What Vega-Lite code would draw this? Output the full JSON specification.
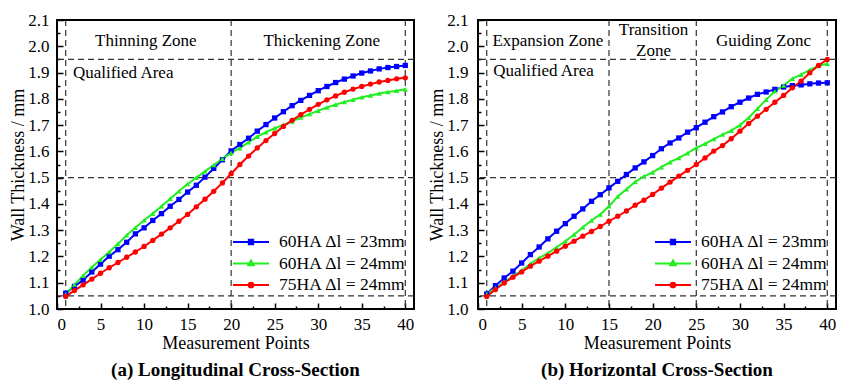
{
"$schema": "https://vega.github.io/schema/vega-lite/v6.json",
"background": "white",
"padding": {"left": 8, "top": 10, "right": 2, "bottom": 2},
"spacing": 11,
"config": {
  "font": "Liberation Serif",
  "view": {"stroke": "black", "strokeWidth": 2, "fill": "white"},
  "axis": {"grid": false, "domain": false, "labelFont": "Liberation Serif", "labelFontSize": 17, "labelColor": "black", "titleFont": "Liberation Serif", "titleFontSize": 18, "titleFontWeight": "normal", "titleColor": "black", "tickColor": "black", "tickWidth": 1.5},
  "legend": {"orient": "bottom-right", "offset": 8, "padding": 0, "symbolSize": 324, "symbolStrokeWidth": 2, "symbolOpacity": 1, "labelFont": "Liberation Serif", "labelFontSize": 17.5, "labelColor": "black", "rowPadding": 2.5, "labelOffset": 18, "titleOrient": "bottom", "titleFontSize": 6, "titlePadding": 1}
},
"datasets": {
  "leg": [{"s": "60HA Δl = 23mm"}, {"s": "60HA Δl = 24mm"}, {"s": "75HA Δl = 24mm"}],
  "hA": [{"y": 1.05}, {"y": 1.5}, {"y": 1.95}],
  "vA": [{"x": 1}, {"x": 20}, {"x": 40}],
  "vB": [{"x": 1}, {"x": 15}, {"x": 25}, {"x": 40}],
  "tA": [{"x": 10.2, "y": 2.02, "t": "Thinning Zone"}, {"x": 30.4, "y": 2.02, "t": "Thickening Zone"}, {"x": 7.6, "y": 1.899, "t": "Qualified Area"}],
  "tB": [{"x": 8.0, "y": 2.02, "t": "Expansion Zone"}, {"x": 20.1, "y": 2.061, "t": "Transition\nZone"}, {"x": 32.7, "y": 2.02, "t": "Guiding Zonc"}, {"x": 7.5, "y": 1.905, "t": "Qualified Area"}],
  "cA": [
{"s":"60HA Δl = 23mm","x":1,"y":1.06},{"s":"60HA Δl = 23mm","x":2,"y":1.086},{"s":"60HA Δl = 23mm","x":3,"y":1.11},{"s":"60HA Δl = 23mm","x":4,"y":1.141},{"s":"60HA Δl = 23mm","x":5,"y":1.171},{"s":"60HA Δl = 23mm","x":6,"y":1.201},{"s":"60HA Δl = 23mm","x":7,"y":1.226},{"s":"60HA Δl = 23mm","x":8,"y":1.254},{"s":"60HA Δl = 23mm","x":9,"y":1.286},{"s":"60HA Δl = 23mm","x":10,"y":1.309},
{"s":"60HA Δl = 23mm","x":11,"y":1.337},{"s":"60HA Δl = 23mm","x":12,"y":1.363},{"s":"60HA Δl = 23mm","x":13,"y":1.391},{"s":"60HA Δl = 23mm","x":14,"y":1.417},{"s":"60HA Δl = 23mm","x":15,"y":1.445},{"s":"60HA Δl = 23mm","x":16,"y":1.471},{"s":"60HA Δl = 23mm","x":17,"y":1.502},{"s":"60HA Δl = 23mm","x":18,"y":1.535},{"s":"60HA Δl = 23mm","x":19,"y":1.568},{"s":"60HA Δl = 23mm","x":20,"y":1.602},
{"s":"60HA Δl = 23mm","x":21,"y":1.626},{"s":"60HA Δl = 23mm","x":22,"y":1.65},{"s":"60HA Δl = 23mm","x":23,"y":1.677},{"s":"60HA Δl = 23mm","x":24,"y":1.702},{"s":"60HA Δl = 23mm","x":25,"y":1.727},{"s":"60HA Δl = 23mm","x":26,"y":1.751},{"s":"60HA Δl = 23mm","x":27,"y":1.774},{"s":"60HA Δl = 23mm","x":28,"y":1.794},{"s":"60HA Δl = 23mm","x":29,"y":1.813},{"s":"60HA Δl = 23mm","x":30,"y":1.831},
{"s":"60HA Δl = 23mm","x":31,"y":1.847},{"s":"60HA Δl = 23mm","x":32,"y":1.862},{"s":"60HA Δl = 23mm","x":33,"y":1.875},{"s":"60HA Δl = 23mm","x":34,"y":1.887},{"s":"60HA Δl = 23mm","x":35,"y":1.898},{"s":"60HA Δl = 23mm","x":36,"y":1.906},{"s":"60HA Δl = 23mm","x":37,"y":1.914},{"s":"60HA Δl = 23mm","x":38,"y":1.919},{"s":"60HA Δl = 23mm","x":39,"y":1.923},{"s":"60HA Δl = 23mm","x":40,"y":1.927},
{"s":"60HA Δl = 24mm","x":1,"y":1.056},{"s":"60HA Δl = 24mm","x":2,"y":1.093},{"s":"60HA Δl = 24mm","x":3,"y":1.127},{"s":"60HA Δl = 24mm","x":4,"y":1.159},{"s":"60HA Δl = 24mm","x":5,"y":1.188},{"s":"60HA Δl = 24mm","x":6,"y":1.217},{"s":"60HA Δl = 24mm","x":7,"y":1.248},{"s":"60HA Δl = 24mm","x":8,"y":1.281},{"s":"60HA Δl = 24mm","x":9,"y":1.309},{"s":"60HA Δl = 24mm","x":10,"y":1.338},
{"s":"60HA Δl = 24mm","x":11,"y":1.363},{"s":"60HA Δl = 24mm","x":12,"y":1.391},{"s":"60HA Δl = 24mm","x":13,"y":1.42},{"s":"60HA Δl = 24mm","x":14,"y":1.448},{"s":"60HA Δl = 24mm","x":15,"y":1.476},{"s":"60HA Δl = 24mm","x":16,"y":1.5},{"s":"60HA Δl = 24mm","x":17,"y":1.524},{"s":"60HA Δl = 24mm","x":18,"y":1.548},{"s":"60HA Δl = 24mm","x":19,"y":1.572},{"s":"60HA Δl = 24mm","x":20,"y":1.594},
{"s":"60HA Δl = 24mm","x":21,"y":1.612},{"s":"60HA Δl = 24mm","x":22,"y":1.635},{"s":"60HA Δl = 24mm","x":23,"y":1.656},{"s":"60HA Δl = 24mm","x":24,"y":1.673},{"s":"60HA Δl = 24mm","x":25,"y":1.688},{"s":"60HA Δl = 24mm","x":26,"y":1.701},{"s":"60HA Δl = 24mm","x":27,"y":1.714},{"s":"60HA Δl = 24mm","x":28,"y":1.729},{"s":"60HA Δl = 24mm","x":29,"y":1.742},{"s":"60HA Δl = 24mm","x":30,"y":1.755},
{"s":"60HA Δl = 24mm","x":31,"y":1.767},{"s":"60HA Δl = 24mm","x":32,"y":1.778},{"s":"60HA Δl = 24mm","x":33,"y":1.788},{"s":"60HA Δl = 24mm","x":34,"y":1.797},{"s":"60HA Δl = 24mm","x":35,"y":1.806},{"s":"60HA Δl = 24mm","x":36,"y":1.813},{"s":"60HA Δl = 24mm","x":37,"y":1.82},{"s":"60HA Δl = 24mm","x":38,"y":1.826},{"s":"60HA Δl = 24mm","x":39,"y":1.831},{"s":"60HA Δl = 24mm","x":40,"y":1.836},
{"s":"75HA Δl = 24mm","x":1,"y":1.048},{"s":"75HA Δl = 24mm","x":2,"y":1.07},{"s":"75HA Δl = 24mm","x":3,"y":1.092},{"s":"75HA Δl = 24mm","x":4,"y":1.114},{"s":"75HA Δl = 24mm","x":5,"y":1.136},{"s":"75HA Δl = 24mm","x":6,"y":1.157},{"s":"75HA Δl = 24mm","x":7,"y":1.177},{"s":"75HA Δl = 24mm","x":8,"y":1.197},{"s":"75HA Δl = 24mm","x":9,"y":1.217},{"s":"75HA Δl = 24mm","x":10,"y":1.238},
{"s":"75HA Δl = 24mm","x":11,"y":1.261},{"s":"75HA Δl = 24mm","x":12,"y":1.285},{"s":"75HA Δl = 24mm","x":13,"y":1.309},{"s":"75HA Δl = 24mm","x":14,"y":1.334},{"s":"75HA Δl = 24mm","x":15,"y":1.36},{"s":"75HA Δl = 24mm","x":16,"y":1.389},{"s":"75HA Δl = 24mm","x":17,"y":1.418},{"s":"75HA Δl = 24mm","x":18,"y":1.448},{"s":"75HA Δl = 24mm","x":19,"y":1.48},{"s":"75HA Δl = 24mm","x":20,"y":1.515},
{"s":"75HA Δl = 24mm","x":21,"y":1.55},{"s":"75HA Δl = 24mm","x":22,"y":1.582},{"s":"75HA Δl = 24mm","x":23,"y":1.613},{"s":"75HA Δl = 24mm","x":24,"y":1.641},{"s":"75HA Δl = 24mm","x":25,"y":1.668},{"s":"75HA Δl = 24mm","x":26,"y":1.695},{"s":"75HA Δl = 24mm","x":27,"y":1.718},{"s":"75HA Δl = 24mm","x":28,"y":1.74},{"s":"75HA Δl = 24mm","x":29,"y":1.76},{"s":"75HA Δl = 24mm","x":30,"y":1.779},
{"s":"75HA Δl = 24mm","x":31,"y":1.796},{"s":"75HA Δl = 24mm","x":32,"y":1.811},{"s":"75HA Δl = 24mm","x":33,"y":1.825},{"s":"75HA Δl = 24mm","x":34,"y":1.837},{"s":"75HA Δl = 24mm","x":35,"y":1.847},{"s":"75HA Δl = 24mm","x":36,"y":1.856},{"s":"75HA Δl = 24mm","x":37,"y":1.864},{"s":"75HA Δl = 24mm","x":38,"y":1.87},{"s":"75HA Δl = 24mm","x":39,"y":1.876},{"s":"75HA Δl = 24mm","x":40,"y":1.88}
  ],
  "cB": [
{"s":"60HA Δl = 23mm","x":1,"y":1.057},{"s":"60HA Δl = 23mm","x":2,"y":1.089},{"s":"60HA Δl = 23mm","x":3,"y":1.118},{"s":"60HA Δl = 23mm","x":4,"y":1.144},{"s":"60HA Δl = 23mm","x":5,"y":1.175},{"s":"60HA Δl = 23mm","x":6,"y":1.207},{"s":"60HA Δl = 23mm","x":7,"y":1.236},{"s":"60HA Δl = 23mm","x":8,"y":1.267},{"s":"60HA Δl = 23mm","x":9,"y":1.296},{"s":"60HA Δl = 23mm","x":10,"y":1.325},
{"s":"60HA Δl = 23mm","x":11,"y":1.353},{"s":"60HA Δl = 23mm","x":12,"y":1.381},{"s":"60HA Δl = 23mm","x":13,"y":1.41},{"s":"60HA Δl = 23mm","x":14,"y":1.435},{"s":"60HA Δl = 23mm","x":15,"y":1.461},{"s":"60HA Δl = 23mm","x":16,"y":1.486},{"s":"60HA Δl = 23mm","x":17,"y":1.512},{"s":"60HA Δl = 23mm","x":18,"y":1.537},{"s":"60HA Δl = 23mm","x":19,"y":1.56},{"s":"60HA Δl = 23mm","x":20,"y":1.584},
{"s":"60HA Δl = 23mm","x":21,"y":1.61},{"s":"60HA Δl = 23mm","x":22,"y":1.632},{"s":"60HA Δl = 23mm","x":23,"y":1.651},{"s":"60HA Δl = 23mm","x":24,"y":1.673},{"s":"60HA Δl = 23mm","x":25,"y":1.69},{"s":"60HA Δl = 23mm","x":26,"y":1.711},{"s":"60HA Δl = 23mm","x":27,"y":1.732},{"s":"60HA Δl = 23mm","x":28,"y":1.75},{"s":"60HA Δl = 23mm","x":29,"y":1.77},{"s":"60HA Δl = 23mm","x":30,"y":1.787},
{"s":"60HA Δl = 23mm","x":31,"y":1.803},{"s":"60HA Δl = 23mm","x":32,"y":1.817},{"s":"60HA Δl = 23mm","x":33,"y":1.826},{"s":"60HA Δl = 23mm","x":34,"y":1.836},{"s":"60HA Δl = 23mm","x":35,"y":1.845},{"s":"60HA Δl = 23mm","x":36,"y":1.85},{"s":"60HA Δl = 23mm","x":37,"y":1.853},{"s":"60HA Δl = 23mm","x":38,"y":1.857},{"s":"60HA Δl = 23mm","x":39,"y":1.86},{"s":"60HA Δl = 23mm","x":40,"y":1.861},
{"s":"60HA Δl = 24mm","x":1,"y":1.057},{"s":"60HA Δl = 24mm","x":2,"y":1.08},{"s":"60HA Δl = 24mm","x":3,"y":1.102},{"s":"60HA Δl = 24mm","x":4,"y":1.125},{"s":"60HA Δl = 24mm","x":5,"y":1.146},{"s":"60HA Δl = 24mm","x":6,"y":1.172},{"s":"60HA Δl = 24mm","x":7,"y":1.194},{"s":"60HA Δl = 24mm","x":8,"y":1.213},{"s":"60HA Δl = 24mm","x":9,"y":1.235},{"s":"60HA Δl = 24mm","x":10,"y":1.258},
{"s":"60HA Δl = 24mm","x":11,"y":1.283},{"s":"60HA Δl = 24mm","x":12,"y":1.311},{"s":"60HA Δl = 24mm","x":13,"y":1.337},{"s":"60HA Δl = 24mm","x":14,"y":1.36},{"s":"60HA Δl = 24mm","x":15,"y":1.391},{"s":"60HA Δl = 24mm","x":16,"y":1.428},{"s":"60HA Δl = 24mm","x":17,"y":1.456},{"s":"60HA Δl = 24mm","x":18,"y":1.484},{"s":"60HA Δl = 24mm","x":19,"y":1.505},{"s":"60HA Δl = 24mm","x":20,"y":1.52},
{"s":"60HA Δl = 24mm","x":21,"y":1.54},{"s":"60HA Δl = 24mm","x":22,"y":1.559},{"s":"60HA Δl = 24mm","x":23,"y":1.575},{"s":"60HA Δl = 24mm","x":24,"y":1.593},{"s":"60HA Δl = 24mm","x":25,"y":1.613},{"s":"60HA Δl = 24mm","x":26,"y":1.629},{"s":"60HA Δl = 24mm","x":27,"y":1.647},{"s":"60HA Δl = 24mm","x":28,"y":1.664},{"s":"60HA Δl = 24mm","x":29,"y":1.679},{"s":"60HA Δl = 24mm","x":30,"y":1.7},
{"s":"60HA Δl = 24mm","x":31,"y":1.728},{"s":"60HA Δl = 24mm","x":32,"y":1.762},{"s":"60HA Δl = 24mm","x":33,"y":1.797},{"s":"60HA Δl = 24mm","x":34,"y":1.829},{"s":"60HA Δl = 24mm","x":35,"y":1.851},{"s":"60HA Δl = 24mm","x":36,"y":1.877},{"s":"60HA Δl = 24mm","x":37,"y":1.892},{"s":"60HA Δl = 24mm","x":38,"y":1.91},{"s":"60HA Δl = 24mm","x":39,"y":1.925},{"s":"60HA Δl = 24mm","x":40,"y":1.934},
{"s":"75HA Δl = 24mm","x":1,"y":1.048},{"s":"75HA Δl = 24mm","x":2,"y":1.074},{"s":"75HA Δl = 24mm","x":3,"y":1.099},{"s":"75HA Δl = 24mm","x":4,"y":1.121},{"s":"75HA Δl = 24mm","x":5,"y":1.141},{"s":"75HA Δl = 24mm","x":6,"y":1.163},{"s":"75HA Δl = 24mm","x":7,"y":1.182},{"s":"75HA Δl = 24mm","x":8,"y":1.201},{"s":"75HA Δl = 24mm","x":9,"y":1.22},{"s":"75HA Δl = 24mm","x":10,"y":1.239},
{"s":"75HA Δl = 24mm","x":11,"y":1.258},{"s":"75HA Δl = 24mm","x":12,"y":1.277},{"s":"75HA Δl = 24mm","x":13,"y":1.295},{"s":"75HA Δl = 24mm","x":14,"y":1.314},{"s":"75HA Δl = 24mm","x":15,"y":1.334},{"s":"75HA Δl = 24mm","x":16,"y":1.353},{"s":"75HA Δl = 24mm","x":17,"y":1.373},{"s":"75HA Δl = 24mm","x":18,"y":1.395},{"s":"75HA Δl = 24mm","x":19,"y":1.414},{"s":"75HA Δl = 24mm","x":20,"y":1.436},
{"s":"75HA Δl = 24mm","x":21,"y":1.46},{"s":"75HA Δl = 24mm","x":22,"y":1.483},{"s":"75HA Δl = 24mm","x":23,"y":1.506},{"s":"75HA Δl = 24mm","x":24,"y":1.528},{"s":"75HA Δl = 24mm","x":25,"y":1.55},{"s":"75HA Δl = 24mm","x":26,"y":1.575},{"s":"75HA Δl = 24mm","x":27,"y":1.601},{"s":"75HA Δl = 24mm","x":28,"y":1.622},{"s":"75HA Δl = 24mm","x":29,"y":1.648},{"s":"75HA Δl = 24mm","x":30,"y":1.677},
{"s":"75HA Δl = 24mm","x":31,"y":1.706},{"s":"75HA Δl = 24mm","x":32,"y":1.734},{"s":"75HA Δl = 24mm","x":33,"y":1.76},{"s":"75HA Δl = 24mm","x":34,"y":1.787},{"s":"75HA Δl = 24mm","x":35,"y":1.813},{"s":"75HA Δl = 24mm","x":36,"y":1.842},{"s":"75HA Δl = 24mm","x":37,"y":1.867},{"s":"75HA Δl = 24mm","x":38,"y":1.899},{"s":"75HA Δl = 24mm","x":39,"y":1.927},{"s":"75HA Δl = 24mm","x":40,"y":1.95}
  ]
},
"hconcat": [
{
  "width": 357, "height": 289,
  "title": {"text": "(a) Longitudinal Cross-Section", "orient": "bottom", "anchor": "middle", "frame": "group", "font": "Liberation Serif", "fontSize": 19, "fontWeight": "bold", "color": "black", "offset": 9},
  "layer": [
    {"data": {"name": "hA"}, "mark": {"type": "rule", "strokeDash": [6, 4], "color": "#333", "strokeWidth": 1.2},
     "encoding": {"y": {"field": "y", "type": "quantitative", "scale": {"domain": [1, 2.1], "nice": false, "zero": false}, "axis": {"orient": "left", "values": [1.05,1.15,1.25,1.35,1.45,1.55,1.65,1.75,1.85,1.95,2.05], "labels": false, "title": null, "tickSize": -3}}}},
    {"data": {"name": "vA"}, "mark": {"type": "rule", "strokeDash": [6, 4], "color": "#333", "strokeWidth": 1.2},
     "encoding": {"x": {"field": "x", "type": "quantitative", "scale": {"domain": [0, 41], "nice": false, "zero": false}, "axis": {"orient": "bottom", "values": [2.5,7.5,12.5,17.5,22.5,27.5,32.5,37.5], "labels": false, "title": null, "tickSize": -3}}}},
    {"data": {"name": "tA"}, "mark": {"type": "text", "font": "Liberation Serif", "fontSize": 17, "color": "black", "align": "center", "baseline": "middle", "lineBreak": "\n", "lineHeight": 21},
     "encoding": {"x": {"field": "x", "type": "quantitative", "scale": {"domain": [0, 41], "nice": false, "zero": false}, "axis": null}, "y": {"field": "y", "type": "quantitative", "scale": {"domain": [1, 2.1], "nice": false, "zero": false}, "axis": null}, "text": {"field": "t"}}},
    {"data": {"name": "cA"}, "mark": {"type": "line", "strokeWidth": 2},
     "encoding": {
       "x": {"field": "x", "type": "quantitative", "scale": {"domain": [0, 41], "nice": false, "zero": false}, "axis": {"orient": "bottom", "values": [0,5,10,15,20,25,30,35,40], "format": "d", "title": "Measurement Points", "tickSize": -6, "labelPadding": 13, "titlePadding": 2}},
       "y": {"field": "y", "type": "quantitative", "scale": {"domain": [1, 2.1], "nice": false, "zero": false}, "axis": {"orient": "left", "values": [1.0,1.1,1.2,1.3,1.4,1.5,1.6,1.7,1.8,1.9,2.0,2.1], "format": ".1f", "title": "Wall Thickness / mm", "tickSize": -6, "labelPadding": 14, "titlePadding": 0}},
       "color": {"field": "s", "type": "nominal", "scale": {"domain": ["60HA Δl = 23mm", "60HA Δl = 24mm", "75HA Δl = 24mm"], "range": ["#0000ff", "#22ee22", "#ff0000"]}, "legend": null}}},
    {"data": {"name": "cA"}, "mark": {"type": "point", "filled": true, "size": 28, "opacity": 1},
     "encoding": {
       "x": {"field": "x", "type": "quantitative", "scale": {"domain": [0, 41], "nice": false, "zero": false}, "axis": null},
       "y": {"field": "y", "type": "quantitative", "scale": {"domain": [1, 2.1], "nice": false, "zero": false}, "axis": null},
       "color": {"field": "s", "type": "nominal", "scale": {"domain": ["60HA Δl = 23mm", "60HA Δl = 24mm", "75HA Δl = 24mm"], "range": ["#0000ff", "#22ee22", "#ff0000"]}, "legend": null},
       "shape": {"field": "s", "type": "nominal", "scale": {"domain": ["60HA Δl = 23mm", "60HA Δl = 24mm", "75HA Δl = 24mm"], "range": ["square", "triangle-up", "circle"]}, "legend": null}}},
    {"data": {"name": "leg"}, "mark": {"type": "point", "filled": true, "size": 0},
     "encoding": {
       "fill": {"field": "s", "type": "nominal", "scale": {"domain": ["60HA Δl = 23mm", "60HA Δl = 24mm", "75HA Δl = 24mm"], "range": ["#0000ff", "#22ee22", "#ff0000"]}, "legend": {"title": " ", "encode": {"symbols": {"update": {"size": {"value": 324}, "opacity": {"value": 1}}}}}},
       "stroke": {"field": "s", "type": "nominal", "scale": {"domain": ["60HA Δl = 23mm", "60HA Δl = 24mm", "75HA Δl = 24mm"], "range": ["#0000ff", "#22ee22", "#ff0000"]}, "legend": {"title": " ", "encode": {"symbols": {"update": {"size": {"value": 324}, "opacity": {"value": 1}}}}}},
       "shape": {"field": "s", "type": "nominal", "scale": {"domain": ["60HA Δl = 23mm", "60HA Δl = 24mm", "75HA Δl = 24mm"], "range": ["M-2,0H2M-0.24,-0.24H0.24V0.24H-0.24Z", "M-2,0H2M0,-0.34L0.3,0.2H-0.3Z", "M-2,0H2M0.26,0A0.26,0.26,0,1,1,-0.26,0A0.26,0.26,0,1,1,0.26,0Z"]}, "legend": {"title": " ", "encode": {"symbols": {"update": {"size": {"value": 324}, "opacity": {"value": 1}}}}}}}}
  ],
  "resolve": {"axis": {"x": "independent", "y": "independent"}, "scale": {"shape": "independent", "fill": "independent", "stroke": "independent"}}
},
{
  "width": 358, "height": 289,
  "title": {"text": "(b) Horizontal Cross-Section", "orient": "bottom", "anchor": "middle", "frame": "group", "font": "Liberation Serif", "fontSize": 19, "fontWeight": "bold", "color": "black", "offset": 9},
  "layer": [
    {"data": {"name": "hA"}, "mark": {"type": "rule", "strokeDash": [6, 4], "color": "#333", "strokeWidth": 1.2},
     "encoding": {"y": {"field": "y", "type": "quantitative", "scale": {"domain": [1, 2.1], "nice": false, "zero": false}, "axis": {"orient": "left", "values": [1.05,1.15,1.25,1.35,1.45,1.55,1.65,1.75,1.85,1.95,2.05], "labels": false, "title": null, "tickSize": -3}}}},
    {"data": {"name": "vB"}, "mark": {"type": "rule", "strokeDash": [6, 4], "color": "#333", "strokeWidth": 1.2},
     "encoding": {"x": {"field": "x", "type": "quantitative", "scale": {"domain": [0, 41], "nice": false, "zero": false}, "axis": {"orient": "bottom", "values": [2.5,7.5,12.5,17.5,22.5,27.5,32.5,37.5], "labels": false, "title": null, "tickSize": -3}}}},
    {"data": {"name": "tB"}, "mark": {"type": "text", "font": "Liberation Serif", "fontSize": 17, "color": "black", "align": "center", "baseline": "middle", "lineBreak": "\n", "lineHeight": 21},
     "encoding": {"x": {"field": "x", "type": "quantitative", "scale": {"domain": [0, 41], "nice": false, "zero": false}, "axis": null}, "y": {"field": "y", "type": "quantitative", "scale": {"domain": [1, 2.1], "nice": false, "zero": false}, "axis": null}, "text": {"field": "t"}}},
    {"data": {"name": "cB"}, "mark": {"type": "line", "strokeWidth": 2},
     "encoding": {
       "x": {"field": "x", "type": "quantitative", "scale": {"domain": [0, 41], "nice": false, "zero": false}, "axis": {"orient": "bottom", "values": [0,5,10,15,20,25,30,35,40], "format": "d", "title": "Measurement Points", "tickSize": -6, "labelPadding": 13, "titlePadding": 2}},
       "y": {"field": "y", "type": "quantitative", "scale": {"domain": [1, 2.1], "nice": false, "zero": false}, "axis": {"orient": "left", "values": [1.0,1.1,1.2,1.3,1.4,1.5,1.6,1.7,1.8,1.9,2.0,2.1], "format": ".1f", "title": "Wall Thickness / mm", "tickSize": -6, "labelPadding": 16, "titlePadding": 0}},
       "color": {"field": "s", "type": "nominal", "scale": {"domain": ["60HA Δl = 23mm", "60HA Δl = 24mm", "75HA Δl = 24mm"], "range": ["#0000ff", "#22ee22", "#ff0000"]}, "legend": null}}},
    {"data": {"name": "cB"}, "mark": {"type": "point", "filled": true, "size": 28, "opacity": 1},
     "encoding": {
       "x": {"field": "x", "type": "quantitative", "scale": {"domain": [0, 41], "nice": false, "zero": false}, "axis": null},
       "y": {"field": "y", "type": "quantitative", "scale": {"domain": [1, 2.1], "nice": false, "zero": false}, "axis": null},
       "color": {"field": "s", "type": "nominal", "scale": {"domain": ["60HA Δl = 23mm", "60HA Δl = 24mm", "75HA Δl = 24mm"], "range": ["#0000ff", "#22ee22", "#ff0000"]}, "legend": null},
       "shape": {"field": "s", "type": "nominal", "scale": {"domain": ["60HA Δl = 23mm", "60HA Δl = 24mm", "75HA Δl = 24mm"], "range": ["square", "triangle-up", "circle"]}, "legend": null}}},
    {"data": {"name": "leg"}, "mark": {"type": "point", "filled": true, "size": 0},
     "encoding": {
       "fill": {"field": "s", "type": "nominal", "scale": {"domain": ["60HA Δl = 23mm", "60HA Δl = 24mm", "75HA Δl = 24mm"], "range": ["#0000ff", "#22ee22", "#ff0000"]}, "legend": {"title": " ", "encode": {"symbols": {"update": {"size": {"value": 324}, "opacity": {"value": 1}}}}}},
       "stroke": {"field": "s", "type": "nominal", "scale": {"domain": ["60HA Δl = 23mm", "60HA Δl = 24mm", "75HA Δl = 24mm"], "range": ["#0000ff", "#22ee22", "#ff0000"]}, "legend": {"title": " ", "encode": {"symbols": {"update": {"size": {"value": 324}, "opacity": {"value": 1}}}}}},
       "shape": {"field": "s", "type": "nominal", "scale": {"domain": ["60HA Δl = 23mm", "60HA Δl = 24mm", "75HA Δl = 24mm"], "range": ["M-2,0H2M-0.24,-0.24H0.24V0.24H-0.24Z", "M-2,0H2M0,-0.34L0.3,0.2H-0.3Z", "M-2,0H2M0.26,0A0.26,0.26,0,1,1,-0.26,0A0.26,0.26,0,1,1,0.26,0Z"]}, "legend": {"title": " ", "encode": {"symbols": {"update": {"size": {"value": 324}, "opacity": {"value": 1}}}}}}}}
  ],
  "resolve": {"axis": {"x": "independent", "y": "independent"}, "scale": {"shape": "independent", "fill": "independent", "stroke": "independent"}}
}
],
"resolve": {"scale": {"color": "independent"}}
}
